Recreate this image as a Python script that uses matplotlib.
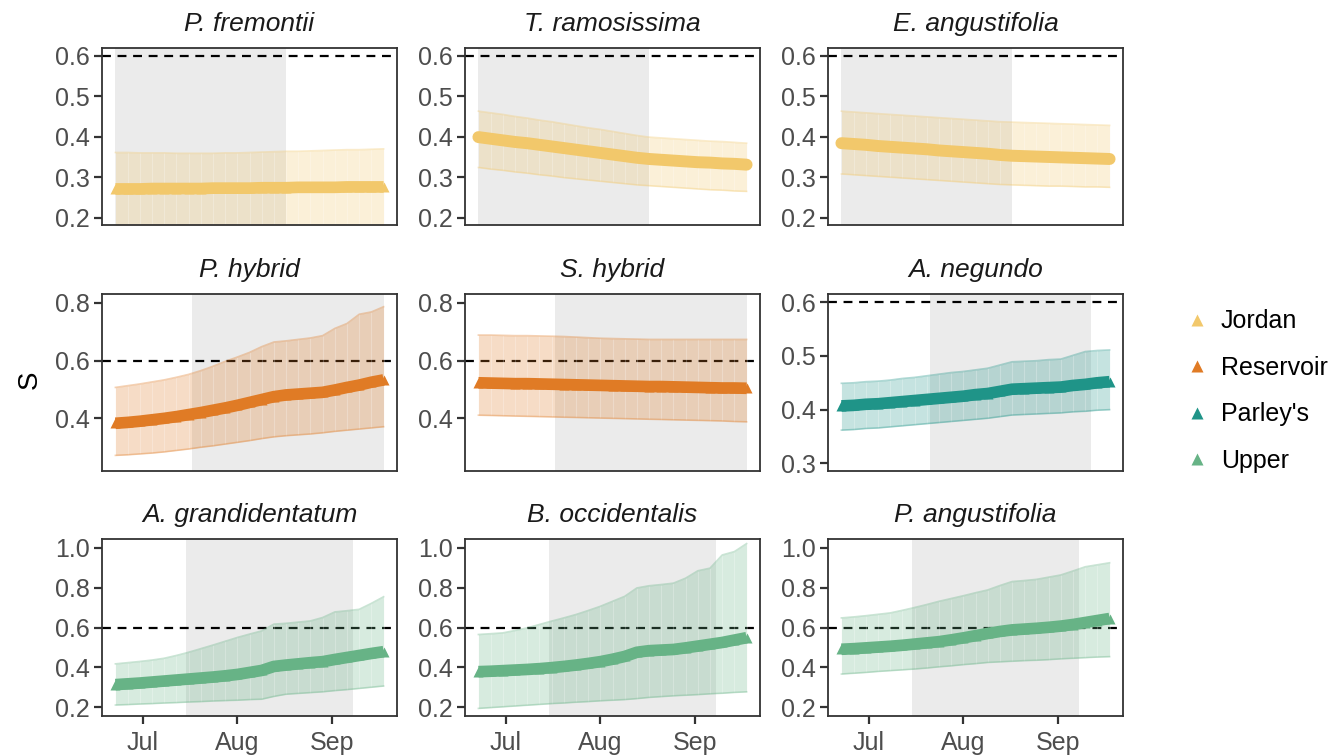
import numpy as np
import matplotlib
matplotlib.use("Agg")
import matplotlib.pyplot as plt
import matplotlib.dates as mdates
from matplotlib.lines import Line2D

plt.rcParams['font.family'] = ['Liberation Sans', 'DejaVu Sans']

# ---------------- data ----------------
dates = ["2020-06-22", "2020-06-26", "2020-06-30", "2020-07-04", "2020-07-08", "2020-07-12",
         "2020-07-16", "2020-07-20", "2020-07-24", "2020-07-28", "2020-08-01", "2020-08-05",
         "2020-08-09", "2020-08-13", "2020-08-17", "2020-08-21", "2020-08-25", "2020-08-29",
         "2020-09-02", "2020-09-06", "2020-09-10", "2020-09-14", "2020-09-18"]

sites = ["Jordan", "Reservoir", "Parley's", "Upper"]
site_colors = ["#F2C86B", "#E07B25", "#1F9488", "#67B386"]

species = ["P. fremontii", "T. ramosissima", "E. angustifolia",
           "P. hybrid", "S. hybrid", "A. negundo",
           "A. grandidentatum", "B. occidentalis", "P. angustifolia"]
species_site = ["Jordan", "Jordan", "Jordan",
                "Reservoir", "Reservoir", "Parley's",
                "Upper", "Upper", "Upper"]

pfre_mean = [0.271, 0.271, 0.271, 0.272, 0.272, 0.272, 0.272, 0.272, 0.273, 0.273, 0.273, 0.273,
             0.274, 0.274, 0.274, 0.275, 0.275, 0.275, 0.275, 0.276, 0.276, 0.276, 0.276]
pfre_hi = [0.361, 0.361, 0.360, 0.360, 0.360, 0.359, 0.359, 0.359, 0.359, 0.360, 0.360, 0.361,
           0.362, 0.363, 0.364, 0.364, 0.365, 0.366, 0.367, 0.368, 0.368, 0.369, 0.370]
pfre_lo = [0.170, 0.170, 0.170, 0.170, 0.171, 0.171, 0.171, 0.171, 0.172, 0.172, 0.172, 0.172,
           0.173, 0.173, 0.173, 0.173, 0.174, 0.174, 0.174, 0.174, 0.175, 0.175, 0.175]

tram_mean = [0.399, 0.395, 0.391, 0.387, 0.384, 0.380, 0.376, 0.372, 0.368, 0.364, 0.360, 0.356,
             0.352, 0.348, 0.345, 0.343, 0.341, 0.339, 0.337, 0.336, 0.334, 0.333, 0.331]
tram_hi = [0.463, 0.459, 0.455, 0.450, 0.446, 0.441, 0.437, 0.432, 0.427, 0.422, 0.418, 0.413,
           0.408, 0.403, 0.399, 0.397, 0.395, 0.393, 0.391, 0.389, 0.388, 0.386, 0.384]
tram_lo = [0.324, 0.320, 0.317, 0.313, 0.310, 0.306, 0.303, 0.299, 0.296, 0.293, 0.290, 0.287,
           0.284, 0.281, 0.279, 0.277, 0.275, 0.273, 0.271, 0.269, 0.268, 0.266, 0.265]

eang_mean = [0.384, 0.382, 0.380, 0.377, 0.375, 0.373, 0.371, 0.369, 0.366, 0.364, 0.362, 0.360,
             0.358, 0.355, 0.353, 0.352, 0.351, 0.350, 0.349, 0.348, 0.347, 0.346, 0.345]
eang_hi = [0.463, 0.461, 0.459, 0.457, 0.455, 0.453, 0.451, 0.449, 0.447, 0.445, 0.443, 0.441,
           0.439, 0.437, 0.436, 0.435, 0.434, 0.433, 0.432, 0.431, 0.430, 0.429, 0.428]
eang_lo = [0.308, 0.306, 0.304, 0.302, 0.300, 0.298, 0.296, 0.294, 0.292, 0.290, 0.288, 0.286,
           0.284, 0.282, 0.281, 0.280, 0.279, 0.278, 0.278, 0.277, 0.276, 0.276, 0.275]

phyb_mean = [0.383, 0.386, 0.390, 0.395, 0.400, 0.406, 0.413, 0.420, 0.428, 0.436, 0.445, 0.455,
             0.465, 0.475, 0.481, 0.484, 0.487, 0.490, 0.498, 0.507, 0.515, 0.525, 0.533]
phyb_hi = [0.507, 0.513, 0.519, 0.526, 0.533, 0.542, 0.552, 0.565, 0.580, 0.597, 0.612, 0.628,
           0.648, 0.664, 0.668, 0.673, 0.678, 0.686, 0.711, 0.728, 0.760, 0.768, 0.786]
phyb_lo = [0.272, 0.274, 0.277, 0.280, 0.284, 0.289, 0.294, 0.300, 0.305, 0.311, 0.317, 0.323,
           0.330, 0.336, 0.340, 0.343, 0.346, 0.350, 0.355, 0.359, 0.363, 0.367, 0.371]

shyb_mean = [0.523, 0.522, 0.521, 0.520, 0.520, 0.519, 0.518, 0.517, 0.516, 0.515, 0.514, 0.513,
             0.512, 0.511, 0.510, 0.510, 0.509, 0.508, 0.507, 0.506, 0.505, 0.505, 0.504]
shyb_hi = [0.688, 0.688, 0.687, 0.686, 0.686, 0.685, 0.684, 0.683, 0.681, 0.679, 0.677, 0.676,
           0.675, 0.674, 0.673, 0.673, 0.673, 0.673, 0.673, 0.673, 0.673, 0.673, 0.673]
shyb_lo = [0.411, 0.410, 0.409, 0.408, 0.407, 0.406, 0.405, 0.404, 0.403, 0.402, 0.401, 0.400,
           0.399, 0.398, 0.397, 0.396, 0.395, 0.394, 0.393, 0.392, 0.391, 0.389, 0.388]

aneg_mean = [0.407, 0.408, 0.410, 0.411, 0.413, 0.415, 0.417, 0.419, 0.421, 0.423, 0.425, 0.428,
             0.430, 0.434, 0.438, 0.439, 0.440, 0.441, 0.442, 0.445, 0.447, 0.450, 0.452]
aneg_hi = [0.449, 0.450, 0.452, 0.453, 0.455, 0.458, 0.460, 0.463, 0.466, 0.469, 0.471, 0.474,
           0.477, 0.483, 0.489, 0.490, 0.491, 0.493, 0.494, 0.501, 0.508, 0.510, 0.511]
aneg_lo = [0.362, 0.363, 0.365, 0.366, 0.368, 0.370, 0.372, 0.374, 0.376, 0.378, 0.380, 0.382,
           0.384, 0.387, 0.390, 0.391, 0.392, 0.393, 0.394, 0.396, 0.397, 0.399, 0.400]

agra_mean = [0.314, 0.318, 0.322, 0.327, 0.332, 0.337, 0.342, 0.347, 0.352, 0.358, 0.365, 0.375,
             0.385, 0.405, 0.412, 0.418, 0.424, 0.429, 0.440, 0.450, 0.460, 0.470, 0.479]
agra_hi = [0.418, 0.424, 0.430, 0.437, 0.446, 0.460, 0.476, 0.494, 0.512, 0.531, 0.550, 0.567,
           0.583, 0.617, 0.621, 0.627, 0.633, 0.650, 0.678, 0.684, 0.691, 0.721, 0.754]
agra_lo = [0.212, 0.214, 0.217, 0.219, 0.222, 0.224, 0.227, 0.229, 0.232, 0.234, 0.236, 0.239,
           0.241, 0.255, 0.266, 0.270, 0.274, 0.278, 0.284, 0.289, 0.295, 0.301, 0.307]

bocc_mean = [0.379, 0.381, 0.384, 0.387, 0.390, 0.394, 0.399, 0.405, 0.412, 0.420, 0.429, 0.441,
             0.455, 0.476, 0.484, 0.487, 0.490, 0.498, 0.507, 0.516, 0.525, 0.537, 0.549]
bocc_hi = [0.565, 0.569, 0.573, 0.585, 0.598, 0.615, 0.632, 0.648, 0.665, 0.685, 0.706, 0.731,
           0.756, 0.798, 0.809, 0.815, 0.822, 0.847, 0.884, 0.897, 0.963, 0.980, 1.020]
bocc_lo = [0.195, 0.199, 0.203, 0.207, 0.211, 0.215, 0.219, 0.222, 0.226, 0.229, 0.233, 0.236,
           0.239, 0.244, 0.250, 0.254, 0.258, 0.261, 0.264, 0.268, 0.271, 0.275, 0.278]

pang_mean = [0.491, 0.494, 0.498, 0.502, 0.506, 0.511, 0.517, 0.523, 0.529, 0.538, 0.548, 0.559,
             0.570, 0.580, 0.588, 0.592, 0.596, 0.601, 0.607, 0.615, 0.625, 0.635, 0.645]
pang_hi = [0.648, 0.653, 0.659, 0.666, 0.673, 0.686, 0.700, 0.715, 0.731, 0.745, 0.759, 0.774,
           0.788, 0.810, 0.830, 0.835, 0.841, 0.852, 0.863, 0.883, 0.904, 0.914, 0.924]
pang_lo = [0.367, 0.371, 0.375, 0.380, 0.384, 0.388, 0.392, 0.397, 0.403, 0.408, 0.414, 0.419,
           0.425, 0.428, 0.431, 0.434, 0.436, 0.439, 0.443, 0.446, 0.449, 0.452, 0.454]

# shaded period per panel
shade_start = ["2020-06-22", "2020-06-22", "2020-06-22", "2020-07-17", "2020-07-17", "2020-07-21",
               "2020-07-15", "2020-07-15", "2020-07-15"]
shade_end = ["2020-08-17", "2020-08-17", "2020-08-17", "2020-09-18", "2020-09-18", "2020-09-12",
             "2020-09-08", "2020-09-08", "2020-09-08"]

threshold = 0.6
month_ticks = ["2020-07-01", "2020-08-01", "2020-09-01"]
month_labels = ["Jul", "Aug", "Sep"]

means = [pfre_mean, tram_mean, eang_mean, phyb_mean, shyb_mean, aneg_mean, agra_mean, bocc_mean, pang_mean]
his = [pfre_hi, tram_hi, eang_hi, phyb_hi, shyb_hi, aneg_hi, agra_hi, bocc_hi, pang_hi]
los = [pfre_lo, tram_lo, eang_lo, phyb_lo, shyb_lo, aneg_lo, agra_lo, bocc_lo, pang_lo]
markers = ['^', 'o', 'o', '^', '^', '^', '^', '^', '^']

# layout / style
ylims = [(0.182, 0.619)] * 3 + [(0.218, 0.830), (0.218, 0.830), (0.286, 0.615)] + [(0.157, 1.043)] * 3
yticks = [[0.2, 0.3, 0.4, 0.5, 0.6]] * 3 + [[0.4, 0.6, 0.8], [0.4, 0.6, 0.8], [0.3, 0.4, 0.5, 0.6]] + \
         [[0.2, 0.4, 0.6, 0.8, 1.0]] * 3

W, H = 1336, 756
fig = plt.figure(figsize=(W / 100, H / 100), dpi=100)
lefts = [102, 465, 828]
tops = [48, 294, 539]
pw, ph = 295, 177

x = mdates.date2num(np.array(dates, dtype='datetime64[D]'))
pad = (x[-1] - x[0]) * 0.05
mt = mdates.date2num(np.array(month_ticks, dtype='datetime64[D]'))
color_of = dict(zip(sites, site_colors))

for i in range(9):
    r, c = divmod(i, 3)
    ax = fig.add_axes([lefts[c] / W, 1 - (tops[r] + ph) / H, pw / W, ph / H])
    col = color_of[species_site[i]]
    s0, s1 = mdates.date2num(np.array([shade_start[i], shade_end[i]], dtype='datetime64[D]'))
    ax.axvspan(s0, s1, color='#EBEBEB', lw=0, zorder=0)
    ax.axhline(threshold, color='black', lw=1.6, dashes=(4, 3), zorder=1)
    lo, hi, mean = np.array(los[i]), np.array(his[i]), np.array(means[i])
    ax.fill_between(x, lo, hi, color=col, alpha=0.26, lw=0, zorder=2)
    ax.vlines(x, lo, hi, color='white', alpha=0.25, lw=0.8, zorder=2)
    ax.plot(x, lo, color=col, alpha=0.35, lw=1.2, zorder=2)
    ax.plot(x, hi, color=col, alpha=0.35, lw=1.2, zorder=2)
    if markers[i] == 'o':
        ax.plot(x, mean, color=col, lw=8.6, solid_capstyle='round', solid_joinstyle='round', zorder=3)
    else:
        ax.plot(x, mean, color=col, lw=8.4, solid_capstyle='butt', solid_joinstyle='round', zorder=3)
        ax.plot(x, mean, ls='none', marker='^', ms=7.2, color=col, mec='none', zorder=3)
    ax.set_xlim(x[0] - pad, x[-1] + pad)
    ax.set_ylim(*ylims[i])
    ax.set_yticks(yticks[i])
    ax.set_yticklabels([f"{v:.1f}" for v in yticks[i]])
    for sp in ax.spines.values():
        sp.set_color('#333333')
        sp.set_linewidth(1.3)
    ax.tick_params(axis='both', direction='out', length=5.5, width=1.6, color='#333333',
                   labelcolor='#4D4D4D', labelsize=18)
    ax.tick_params(axis='y', pad=3.5)
    ax.tick_params(axis='x', pad=5)
    if r == 2:
        ax.set_xticks(mt)
        ax.set_xticklabels(month_labels)
    else:
        ax.set_xticks(mt)
        ax.tick_params(axis='x', bottom=False, labelbottom=False)
    ax.text(0.5, 1 + 24 / ph, species[i], transform=ax.transAxes, ha='center', va='center',
            style='italic', fontsize=19, color='#1A1A1A')

fig.text(30 / W, 1 - 380 / H, 'S', rotation=90, ha='center', va='center', fontsize=20)

handles = [Line2D([], [], ls='none', marker='^', ms=9, color=c, mec='none') for c in site_colors]
fig.legend(handles, sites, loc='center left', bbox_to_anchor=(1172 / W, 1 - 391 / H), frameon=False,
           fontsize=18, labelspacing=0.9, handlelength=1.2, handletextpad=0.35, borderaxespad=0)

fig.savefig('out.png', dpi=100)
